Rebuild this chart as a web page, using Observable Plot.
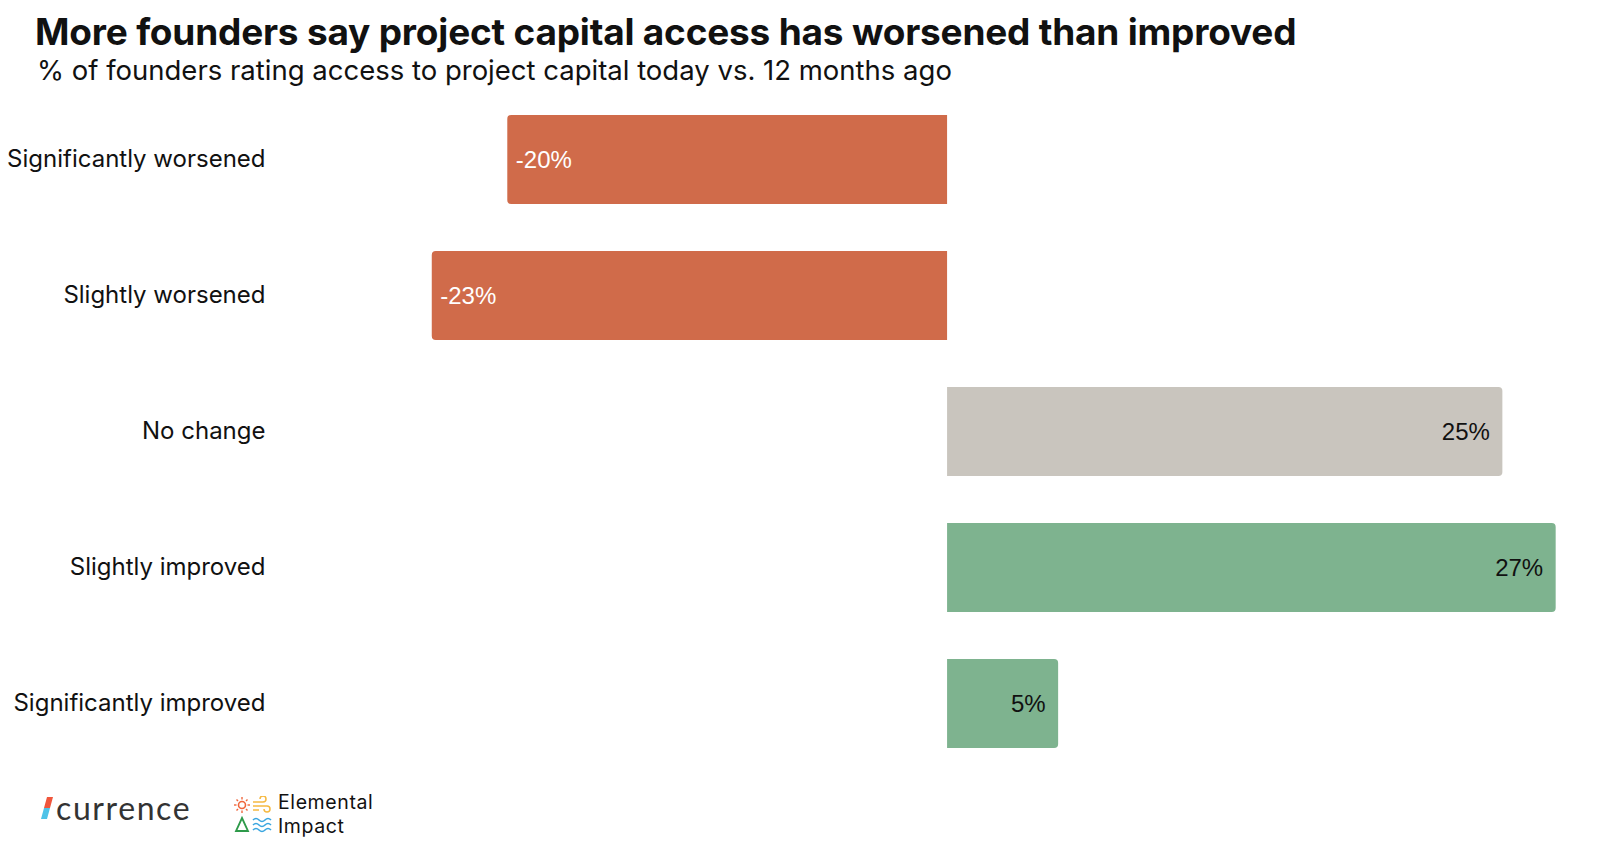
<!DOCTYPE html>
<html>
<head>
<meta charset="utf-8">
<script src="https://cdn.jsdelivr.net/npm/d3@7"></script>
<script src="https://cdn.jsdelivr.net/npm/@observablehq/plot@0.6"></script>
<style>
  html, body { margin: 0; padding: 0; background: #fff; }
  body { width: 1600px; height: 855px; position: relative; overflow: hidden; font-family: Inter, "Noto Sans", sans-serif; }
  #title { position: absolute; left: 35px; top: 10px; font-size: 37px; font-weight: 700; color: #111; letter-spacing: -0.2px; white-space: nowrap; line-height: 1.2; }
  #subtitle { position: absolute; left: 37px; top: 54px; font-size: 27.5px; font-weight: 400; color: #111; white-space: nowrap; line-height: 1.2; }
  #chart { position: absolute; left: 0; top: 95px; }
  .currence { position: absolute; left: 40px; top: 788px; display: flex; align-items: center; font-family: Lato, "Open Sans", sans-serif; font-size: 32px; color: #333; letter-spacing: 1.6px; }
  .elemental { position: absolute; left: 234px; top: 791px; display: flex; align-items: center; }
  .elemental .txt { font-family: Inter, sans-serif; font-size: 19.5px; line-height: 23.8px; letter-spacing: 0.6px; color: #111; margin-left: 6px; }
</style>
</head>
<body>
<div id="title">More founders say project capital access has worsened than improved</div>
<div id="subtitle">% of founders rating access to project capital today vs. 12 months ago</div>
<div id="chart"></div>
<div class="currence">
  <svg width="15" height="28" viewBox="0 0 15 28"><polygon points="7,3 13,3 10,14 4,14" fill="#f0563c"/><polygon points="4,14 10,14 7,25 1,25" fill="#4fc3e8"/></svg>
  <span style="margin-left:1px">currence</span>
</div>
<div class="elemental">
  <svg width="38" height="38" viewBox="0 0 38 38">
    <circle cx="8" cy="9" r="3.5" fill="none" stroke="#f0663c" stroke-width="1.6"/>
    <g stroke="#f0663c" stroke-width="1.4"><line x1="8" y1="1" x2="8" y2="3.5"/><line x1="8" y1="14.5" x2="8" y2="17"/><line x1="0" y1="9" x2="2.5" y2="9"/><line x1="13.5" y1="9" x2="16" y2="9"/><line x1="2.5" y1="3.5" x2="4" y2="5"/><line x1="12" y1="13" x2="13.5" y2="14.5"/><line x1="2.5" y1="14.5" x2="4" y2="13"/><line x1="12" y1="5" x2="13.5" y2="3.5"/></g>
    <path d="M19,6 h10 a3,3 0 1 0 -3,-3 M19,10 h14 a3,3 0 1 1 -3,3 M19,14 h6" fill="none" stroke="#f5b942" stroke-width="1.5"/>
    <polygon points="8,22 14,35 2,35" fill="none" stroke="#2e9a4a" stroke-width="1.8"/>
    <path d="M19,24 q3,-3 6,0 t6,0 t6,0 M19,29 q3,-3 6,0 t6,0 t6,0 M19,34 q3,-3 6,0 t6,0 t6,0" fill="none" stroke="#3aa6e0" stroke-width="1.6"/>
  </svg>
  <div class="txt">Elemental<br>Impact</div>
</div>
<script>
const categories = ["Significantly worsened", "Slightly worsened", "No change", "Slightly improved", "Significantly improved"];
const values = [-19.8, -23.2, 25.0, 27.4, 5.0];
const labels = ["-20%", "-23%", "25%", "27%", "5%"];
const colors = ["#d06b4a", "#d06b4a", "#c9c5be", "#7eb38f", "#7eb38f"];

const data = categories.map((c, i) => ({category: c, value: values[i], label: labels[i], color: colors[i]}));
const neg = data.filter(d => d.value < 0);
const pos = data.filter(d => d.value >= 0);

const chart = Plot.plot({
  width: 1600,
  height: 673,
  marginLeft: 414,
  marginRight: 31,
  marginTop: 0,
  marginBottom: 0,
  x: {domain: [-24, 28], axis: null},
  y: {domain: categories, paddingInner: 0.346, paddingOuter: 0.139, label: null},
  style: {fontFamily: "Inter, sans-serif", fontSize: "24px", color: "#111"},
  marks: [
    Plot.axisY({tickSize: 0, tickPadding: 149, fontSize: 24, fill: "#111", label: null, dy: -1}),
    Plot.barX(neg, {x: "value", y: "category", fill: "color", rx1: 4}),
    Plot.barX(pos, {x: "value", y: "category", fill: "color", rx2: 4}),
    Plot.text(neg, {x: "value", y: "category", text: "label", textAnchor: "start", dx: 8, fill: "#fff", fontSize: 24, fontFamily: "'Liberation Sans', Arial, sans-serif"}),
    Plot.text(pos, {x: "value", y: "category", text: "label", textAnchor: "end", dx: -13, fill: "#111", fontSize: 24, fontFamily: "'Liberation Sans', Arial, sans-serif"})
  ]
});
document.getElementById("chart").appendChild(chart);
</script>
</body>
</html>
